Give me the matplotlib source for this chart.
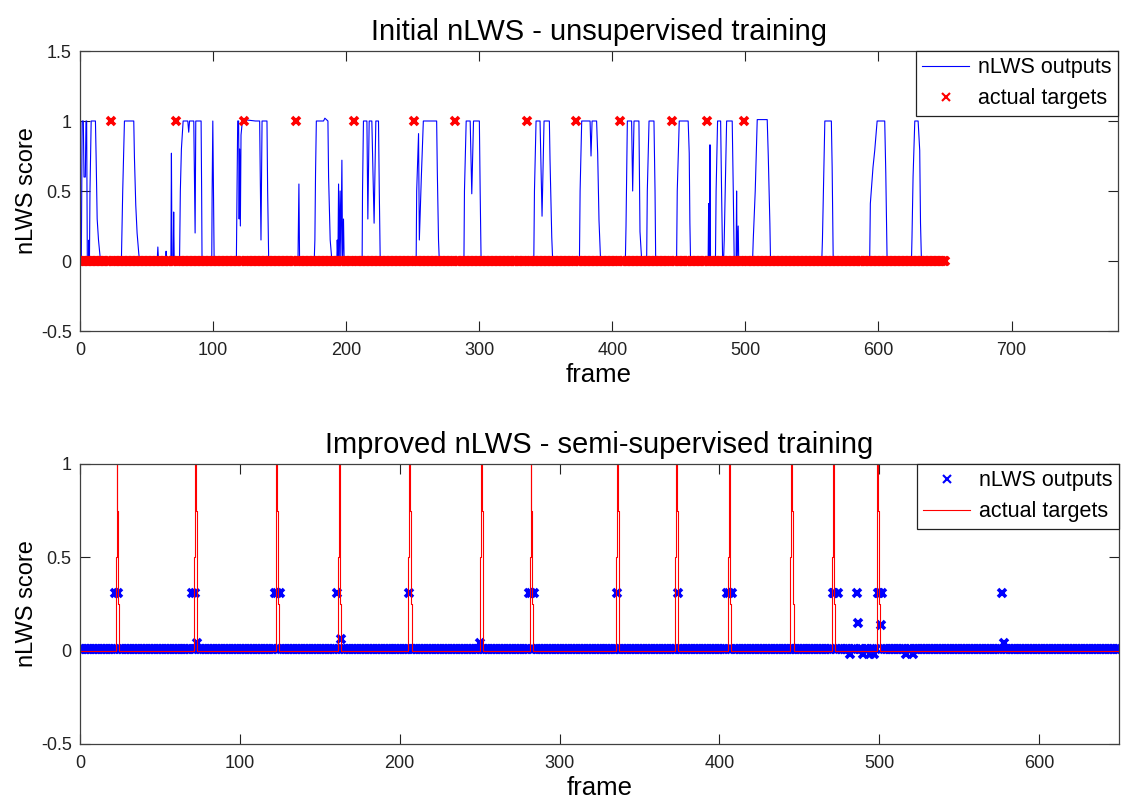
import numpy as np
import matplotlib
matplotlib.use("Agg")
import matplotlib.pyplot as plt

plt.rcParams['font.family'] = ['Liberation Sans', 'DejaVu Sans']

# frames and ground-truth target frames
n_frames = 651
target_frames = [23, 72, 123, 162, 206, 251, 282, 336, 373, 406, 445, 471, 499]

# top panel: nLWS output curve (breakpoints)
out1_frames = [0, 1, 1.6, 2.5, 3, 4, 4.5, 5, 5.5, 6.5, 6.8, 7.1, 7.5, 8.4, 11.6, 12.1, 12.9, 13.9, 15.4,
               31.1, 32.1, 33.4, 40.4, 40.9, 41.9, 42.9, 44.2, 44.9,
               58, 58.5, 59, 64.3, 64.7, 65.1,
               68.3, 68.7, 69.1, 70, 70.4, 70.8, 74.8, 75.4, 76.2, 77.5, 81, 81.7, 82.3, 85.5, 86, 86.5, 87, 91, 91.4, 91.7,
               99, 99.3, 99.8, 100.3, 100.8,
               117.5, 118, 118.5, 119.2, 119.6, 120, 120.5, 121, 122, 123, 131.8, 135, 135.5, 136, 136.8, 140.5, 141, 141.8,
               163.8, 164.2, 164.5, 165,
               176, 176.5, 177, 177.6, 183, 184, 186.3, 186.8, 188, 189.3,
               193, 193.3, 193.8, 194.3, 194.8, 195.5, 196, 196.8, 197.3, 198, 198.5,
               212, 212.3, 213, 215.6, 216.3, 217.3, 219.3, 221, 222.3, 224.3, 224.9, 225.6,
               252.6, 253, 254.4, 255, 256.5, 258, 268, 268.5, 269.4, 270,
               288.5, 288.9, 290.2, 293.2, 294.4, 295.7, 300.1, 300.7, 301.4,
               341, 341.5, 342.7, 345.7, 347.2, 348.7, 352.7, 353.2, 354.5, 355.2,
               375.3, 375.8, 377, 383.3, 384, 384.8, 388.2, 389, 390, 391.2,
               409.8, 410.3, 411.3, 414.5, 415.3, 416.3, 420, 420.8, 422.1,
               425.8, 426.3, 427.6, 431.3, 432.1, 432.6,
               448.3, 448.8, 450.3, 457, 457.8, 458.3, 458.8,
               472, 472.4, 472.8, 473.1, 473.4, 473.8,
               477.5, 478, 479.1, 481.4, 482.1, 482.9,
               483.6, 484.1, 485.1, 485.9, 490.1, 490.9, 491.6,
               493, 493.4, 493.8, 494.6, 495,
               505.4, 505.9, 507.4, 508.9, 516.4, 517.2, 518.4, 518.9,
               557.4, 557.9, 558.9, 559.7, 564.6, 565.2, 566,
               593.4, 593.9, 595.9, 597.2, 599, 604.7, 605.5, 606.5,
               624.8, 625.2, 626, 627.3, 629.8, 631, 631.6, 632.3,
               650]
out1_vals = [0, 0, 1, 1, 0.6, 0.6, 1, 1, 0, 0, 0.15, 0, 0.5, 1, 1, 0.75, 0.3, 0.15, 0,
             0, 0.5, 1, 1, 0.74, 0.4, 0.2, 0.05, 0,
             0, 0.1, 0, 0, 0.07, 0,
             0, 0.77, 0, 0, 0.35, 0, 0, 0.5, 0.8, 1, 1, 0.92, 1, 1, 0.6, 0.2, 1, 1, 0.5, 0,
             0, 0.5, 1, 0.5, 0,
             0, 0.5, 1, 1, 0.3, 0.8, 0.25, 0.9, 1, 1.01, 1, 1, 0.6, 0.15, 1, 1, 0.5, 0,
             0, 0.3, 0.55, 0,
             0, 0.15, 0.63, 1, 1, 1.02, 1, 0.6, 0.15, 0,
             0, 0.15, 0, 0.55, 0, 0.5, 0, 0.72, 0, 0.3, 0,
             0, 0.5, 1, 1, 0.3, 1, 1, 0.27, 1, 1, 0.5, 0,
             0, 0.5, 0.91, 0.15, 0.6, 1, 1, 0.64, 0.15, 0,
             0, 0.5, 1, 1, 0.48, 1, 1, 0.5, 0,
             0, 0.5, 1, 1, 0.32, 1, 1, 0.72, 0.17, 0,
             0, 0.5, 1, 1, 0.75, 1, 1, 0.77, 0.29, 0,
             0, 0.25, 1, 1, 0.5, 1, 1, 0.21, 0,
             0, 0.5, 1, 1, 0.5, 0,
             0, 0.5, 1, 1, 0.77, 0.27, 0,
             0, 0.41, 0, 0, 0.83, 0,
             0, 0.5, 1, 1, 0.5, 0,
             0, 0.15, 0.63, 1, 1, 0.5, 0,
             0, 0.5, 0, 0.25, 0,
             0, 0.15, 0.5, 1.01, 1.01, 0.75, 0.27, 0,
             0, 0.15, 0.63, 1, 1, 0.67, 0,
             0, 0.41, 0.67, 0.79, 1, 1, 0.63, 0,
             0, 0.17, 0.6, 1, 1, 0.79, 0.27, 0,
             0]

# bottom panel: nLWS outputs per frame (baseline plus the raised frames)
out2_base = 0.008
out2_frames = [22, 24, 70, 72, 73, 122, 123, 125, 161, 163, 206, 250, 281, 282, 284,
               336, 374, 405, 406, 408, 471, 472, 474, 482, 486, 487, 490, 494, 497,
               499, 500, 501, 502, 517, 521, 577, 578]
out2_vals = [0.31, 0.31, 0.31, 0.31, 0.04, 0.31, 0.31, 0.31, 0.31, 0.06, 0.31, 0.04, 0.31, 0.31, 0.31,
             0.31, 0.31, 0.31, 0.31, 0.31, 0.31, 0.31, 0.31, -0.02, 0.31, 0.15, -0.02, -0.02, -0.02,
             0.31, 0.31, 0.14, 0.31, -0.02, -0.02, 0.31, 0.04]

# bottom panel: smoothed target shape around each target frame
spike_dx = [-1.0, -0.6, -0.1, 0.4, 0.9, 1.4]
spike_vals = [0, 0.5, 1.0, 0.75, 0.25, 0]

frames = np.arange(n_frames)
targets1 = np.zeros(n_frames)
targets1[target_frames] = 1

outputs2 = np.full(n_frames, out2_base)
outputs2[out2_frames] = out2_vals

tx, ty = [0.0], [0.0]
for t in target_frames:
    tx += [t + d for d in spike_dx]
    ty += spike_vals
tx.append(n_frames - 1)
ty.append(0)

fig = plt.figure(figsize=(11.21, 8.02), dpi=100)
ax1 = fig.add_axes([80 / 1121, 1 - 331 / 802, 1038 / 1121, 280 / 802])
ax2 = fig.add_axes([80 / 1121, 1 - 744 / 802, 1039 / 1121, 280 / 802])

ax1.plot(out1_frames, out1_vals, color='blue', lw=0.8, label='nLWS outputs')
ax1.plot(frames, targets1, 'x', color='red', ms=6, mew=2.6, ls='none', label='actual targets')
ax1.set_xlim(0, 780)
ax1.set_ylim(-0.5, 1.5)
ax1.set_xticks(range(0, 701, 100))
ax1.set_yticks([-0.5, 0, 0.5, 1, 1.5])
ax1.set_yticklabels(['-0.5', '0', '0.5', '1', '1.5'])
ax1.set_title('Initial nLWS - unsupervised training', fontsize=21, pad=8)

ax2.plot(frames, outputs2, 'x', color='blue', ms=6, mew=2.6, ls='none', label='nLWS outputs')
ax2.plot(tx, ty, color='red', lw=0.8, drawstyle='steps-post', label='actual targets')
ax2.set_xlim(0, 650)
ax2.set_ylim(-0.5, 1)
ax2.set_xticks(range(0, 601, 100))
ax2.set_yticks([-0.5, 0, 0.5, 1])
ax2.set_yticklabels(['-0.5', '0', '0.5', '1'])
ax2.set_title('Improved nLWS - semi-supervised training', fontsize=21, pad=8)

for ax in (ax1, ax2):
    ax.set_xlabel('frame', fontsize=18.5, labelpad=3)
    ax.set_ylabel('nLWS score', fontsize=17, labelpad=2)
    ax.tick_params(direction='in', top=True, right=True, length=7, width=0.8,
                   labelsize=13, colors='#222222', pad=8)
    ax.tick_params(axis='y', pad=6)
    for s in ax.spines.values():
        s.set_color('#404040')
        s.set_linewidth(0.9)
    leg = ax.legend(loc='upper right', fontsize=15.5, frameon=True, fancybox=False,
                    borderaxespad=0, handlelength=2.2, handletextpad=0.4,
                    borderpad=0.3, labelspacing=0.45, framealpha=1)
    leg.get_frame().set_edgecolor('#222222')
    leg.get_frame().set_linewidth(0.9)
    for h in leg.legend_handles:
        h.set_markeredgewidth(1.5)

fig.savefig('out.png', dpi=100, facecolor='white')
